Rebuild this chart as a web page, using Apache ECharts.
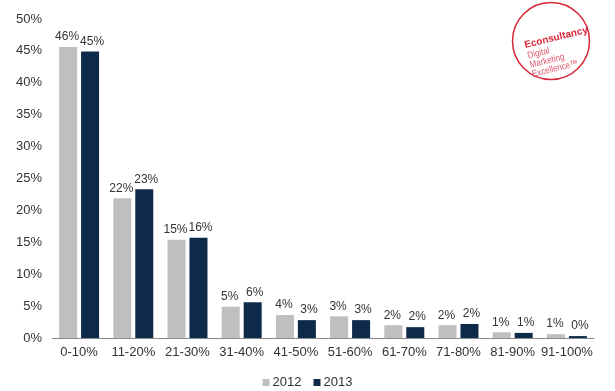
<!DOCTYPE html>
<html>
<head>
<meta charset="utf-8">
<script src="https://cdn.jsdelivr.net/npm/echarts@6/dist/echarts.min.js"></script>
<style>
html,body{margin:0;padding:0;background:#fff;}
#main{width:615px;height:391px;}
</style>
</head>
<body>
<div id="main"></div>
<script>
const categories = ['0-10%','11-20%','21-30%','31-40%','41-50%','51-60%','61-70%','71-80%','81-90%','91-100%'];
const values2012 = [45.6, 21.9, 15.4, 4.9, 3.6, 3.4, 2.0, 2.0, 0.9, 0.6];
const values2013 = [44.9, 23.3, 15.7, 5.6, 2.8, 2.8, 1.7, 2.2, 0.8, 0.3];
const yTicks = [0, 5, 10, 15, 20, 25, 30, 35, 40, 45, 50];
const seriesNames = ['2012', '2013'];

const FONT = '"Liberation Sans", Arial, sans-serif';
const chart = echarts.init(document.getElementById('main'));
function lbl(dx) {
  return {
    show: true, position: 'top', distance: 4, offset: [dx, 0],
    color: '#333', fontSize: 12, fontFamily: FONT,
    formatter: p => Math.round(p.value) + '%'
  };
}
const RED = '#D9273A';
const PINK = '#E2596A';
chart.setOption({
  animation: false,
  grid: { left: 52, right: 21, top: 19, bottom: 53, containLabel: false },
  legend: {
    data: seriesNames, top: 371, left: 'center',
    itemWidth: 7, itemHeight: 7, itemGap: 12, icon: 'rect',
    textStyle: { color: '#333', fontSize: 13, fontFamily: FONT, padding: [0, 0, 0, -2] }
  },
  xAxis: {
    type: 'category', data: categories,
    axisLine: { lineStyle: { color: '#888', width: 1 } },
    axisTick: { show: false },
    axisLabel: { color: '#333', fontSize: 13, fontFamily: FONT, margin: 8, interval: 0 }
  },
  yAxis: {
    type: 'value', min: yTicks[0], max: yTicks[yTicks.length - 1], interval: 5,
    axisLine: { show: false }, axisTick: { show: false }, splitLine: { show: false },
    axisLabel: { color: '#333', fontSize: 13, fontFamily: FONT, margin: 10, formatter: v => v + '%' }
  },
  series: [
    { name: seriesNames[0], type: 'bar', data: values2012, barWidth: 18, barGap: '22%',
      itemStyle: { color: '#BFBFBF' }, label: lbl(-1) },
    { name: seriesNames[1], type: 'bar', data: values2013, barWidth: 18,
      itemStyle: { color: '#0D2A4A' }, label: lbl(2) }
  ],
  graphic: [
    { type: 'circle', shape: { cx: 551, cy: 41, r: 38.5 }, style: { fill: 'none', stroke: RED, lineWidth: 1.5 } },
    { type: 'group', x: 551, y: 42, rotation: 0.24, children: [
      { type: 'text', x: 6, y: -3, style: { text: 'Econsultancy', fill: RED, font: 'bold 10px ' + FONT, align: 'center', verticalAlign: 'middle' } },
      { type: 'text', x: -26, y: 8, scaleX: 0.85, style: { text: 'Digital', fill: PINK, font: '9.5px ' + FONT, align: 'left', verticalAlign: 'middle' } },
      { type: 'text', x: -26, y: 17.5, scaleX: 0.85, style: { text: 'Marketing', fill: PINK, font: '9.5px ' + FONT, align: 'left', verticalAlign: 'middle' } },
      { type: 'text', x: -26, y: 27, scaleX: 0.85, style: { text: 'Excellence\u2122', fill: PINK, font: '9.5px ' + FONT, align: 'left', verticalAlign: 'middle' } }
    ] }
  ]
});
</script>
</body>
</html>
